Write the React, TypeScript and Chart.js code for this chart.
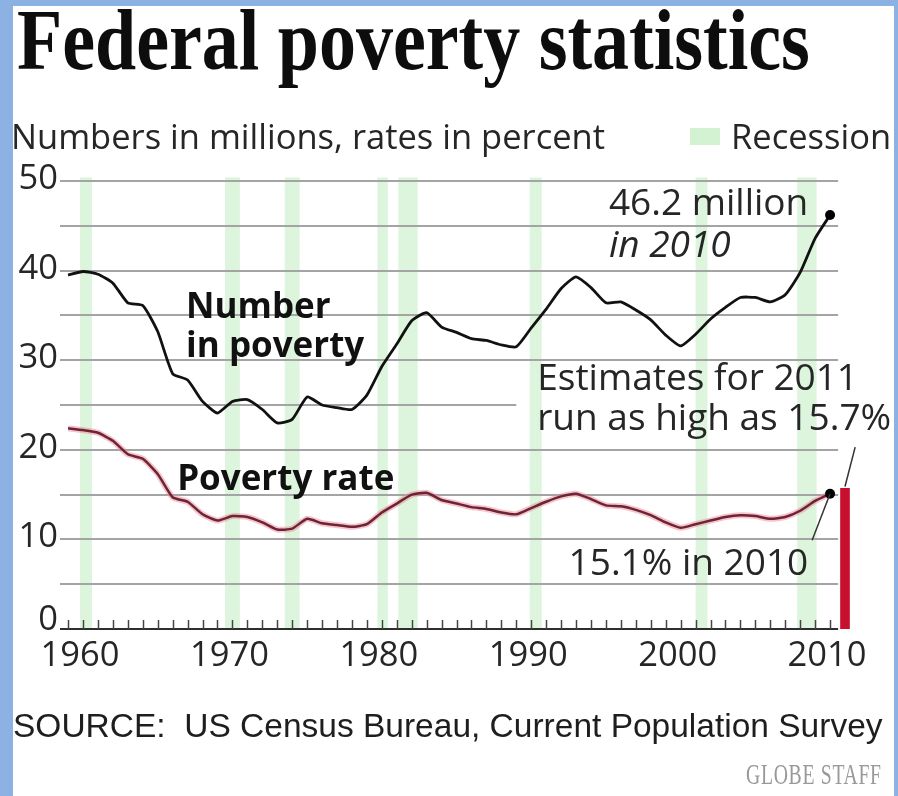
import React, { useEffect, useRef } from 'react';
import { Chart, registerables } from 'chart.js';

Chart.register(...registerables);

// ---------- data ----------
const years = [
  1959, 1960, 1961, 1962, 1963, 1964, 1965, 1966, 1967, 1968, 1969,
  1970, 1971, 1972, 1973, 1974, 1975, 1976, 1977, 1978, 1979,
  1980, 1981, 1982, 1983, 1984, 1985, 1986, 1987, 1988, 1989,
  1990, 1991, 1992, 1993, 1994, 1995, 1996, 1997, 1998, 1999,
  2000, 2001, 2002, 2003, 2004, 2005, 2006, 2007, 2008, 2009, 2010,
];
const numberInPoverty = [
  39.5, 39.9, 39.6, 38.6, 36.4, 36.1, 33.2, 28.5, 27.8, 25.4, 24.1,
  25.4, 25.6, 24.5, 23.0, 23.4, 25.9, 25.0, 24.7, 24.5, 26.1,
  29.3, 31.8, 34.4, 35.3, 33.7, 33.1, 32.4, 32.2, 31.7, 31.5,
  33.6, 35.7, 38.0, 39.3, 38.1, 36.4, 36.5, 35.6, 34.5, 32.8,
  31.6, 32.9, 34.6, 35.9, 37.0, 37.0, 36.5, 37.3, 39.8, 43.6, 46.2,
];
const povertyRate = [
  22.4, 22.2, 21.9, 21.0, 19.5, 19.0, 17.3, 14.7, 14.2, 12.8, 12.1,
  12.6, 12.5, 11.9, 11.1, 11.2, 12.3, 11.8, 11.6, 11.4, 11.7,
  13.0, 14.0, 15.0, 15.2, 14.4, 14.0, 13.6, 13.4, 13.0, 12.8,
  13.5, 14.2, 14.8, 15.1, 14.5, 13.8, 13.7, 13.3, 12.7, 11.9,
  11.3, 11.7, 12.1, 12.5, 12.7, 12.6, 12.3, 12.5, 13.2, 14.3, 15.1,
];
const estimateYears = [2011];
const estimateRates = [15.7];
const recessionStarts = [1959.8, 1969.5, 1973.5, 1979.7, 1981.1, 1989.9, 2001.0, 2007.8];
const recessionEnds = [1960.6, 1970.5, 1974.5, 1980.4, 1982.4, 1990.7, 2001.8, 2009.1];
const yTickValues = [0, 10, 20, 30, 40, 50];
const yGridValues = [5, 10, 15, 20, 25, 30, 35, 40, 45, 50];
const xTickLabels = ['1960', '1970', '1980', '1990', '2000', '2010'];

// ---------- styles ----------
const BLUE = '#8cb2e4';
const BAND = 'rgba(150,225,150,0.32)';
const GRID = '#a4a4a4';
const TEXT = '#262626';
const SANS = '"Open Sans", "DejaVu Sans", sans-serif';
const X_MIN = 1958.46;
const X_MAX = 2011.87;
const GRID_END = 2010.54;

const decorPlugin = {
  id: 'decor',
  beforeDatasetsDraw(chart: any) {
    const { ctx, scales } = chart;
    const x = scales.x;
    const y = scales.y;
    const y0 = y.getPixelForValue(0);
    ctx.save();
    // recession bands
    ctx.fillStyle = BAND;
    const top = y.getPixelForValue(50.4);
    recessionStarts.forEach((s, i) => {
      const a = x.getPixelForValue(s);
      const b = x.getPixelForValue(recessionEnds[i]);
      ctx.fillRect(a, top, b - a, y0 - top);
    });
    // grid lines
    ctx.strokeStyle = GRID;
    ctx.lineWidth = 2;
    yGridValues.forEach((v) => {
      const py = Math.round(y.getPixelForValue(v));
      const end = v === 25 ? 1989.0 : GRID_END;
      ctx.beginPath();
      ctx.moveTo(x.getPixelForValue(X_MIN), py);
      ctx.lineTo(x.getPixelForValue(end), py);
      ctx.stroke();
    });
    // baseline
    ctx.strokeStyle = '#2e2e2e';
    ctx.lineWidth = 2;
    ctx.beginPath();
    ctx.moveTo(x.getPixelForValue(X_MIN), Math.round(y0));
    ctx.lineTo(x.getPixelForValue(GRID_END), Math.round(y0));
    ctx.stroke();
    // year ticks
    ctx.strokeStyle = '#444';
    ctx.lineWidth = 1.5;
    years.forEach((yr) => {
      const px = Math.round(x.getPixelForValue(yr)) + 0.5;
      ctx.beginPath();
      ctx.moveTo(px, y0);
      ctx.lineTo(px, y0 - 9);
      ctx.stroke();
    });
    // y labels
    ctx.fillStyle = TEXT;
    ctx.font = `34.5px ${SANS}`;
    ctx.textAlign = 'right';
    ctx.textBaseline = 'alphabetic';
    yTickValues.forEach((v) => {
      const py = y.getPixelForValue(v);
      ctx.fillText(String(v), 58, v === 0 ? py + 1 : py + 8);
    });
    // x labels
    ctx.textAlign = 'center';
    xTickLabels.forEach((lab) => {
      ctx.fillText(lab, x.getPixelForValue(Number(lab)) - 3, y0 + 37);
    });
    ctx.restore();
  },
  afterDatasetsDraw(chart: any) {
    const { ctx, scales } = chart;
    const x = scales.x;
    const y = scales.y;
    const P = (a: number, b: number) => [x.getPixelForValue(a), y.getPixelForValue(b)];
    ctx.save();
    ctx.fillStyle = '#111';
    ctx.textAlign = 'left';
    ctx.textBaseline = 'alphabetic';
    ctx.font = `bold 35px ${SANS}`;
    let p = P(1966.9, 34.7);
    ctx.fillText('Number', p[0], p[1]);
    p = P(1966.9, 30.4);
    ctx.fillText('in poverty', p[0], p[1]);
    p = P(1966.3, 15.5);
    ctx.fillText('Poverty rate', p[0], p[1]);

    ctx.fillStyle = TEXT;
    ctx.font = `37px ${SANS}`;
    p = P(1995.2, 46.2);
    ctx.fillText('46.2 million', p[0], p[1]);
    ctx.font = `italic 37px ${SANS}`;
    p = P(1995.2, 41.5);
    ctx.fillText('in 2010', p[0], p[1]);
    ctx.font = `37px ${SANS}`;
    p = P(1990.4, 26.7);
    ctx.fillText('Estimates for 2011', p[0], p[1]);
    p = P(1990.4, 22.2);
    ctx.fillText('run as high as 15.7%', p[0], p[1]);
    p = P(1992.5, 6.0);
    ctx.fillText('15.1% in 2010', p[0], p[1]);

    // leader lines
    ctx.strokeStyle = '#333';
    ctx.lineWidth = 1.5;
    let a = P(2011.68, 20.3);
    let b = P(estimateYears[0], estimateRates[0] + 0.2);
    ctx.beginPath();
    ctx.moveTo(a[0], a[1]);
    ctx.lineTo(b[0], b[1]);
    ctx.stroke();
    a = P(2010, 15.1);
    b = P(2008.8, 9.9);
    ctx.beginPath();
    ctx.moveTo(a[0], a[1]);
    ctx.lineTo(b[0], b[1]);
    ctx.stroke();
    ctx.restore();
  },
};

function ChartCanvas() {
  const ref = useRef<HTMLCanvasElement | null>(null);
  useEffect(() => {
    if (!ref.current) return;
    const last = years.length - 1;
    const numPts = years.map((yr, i) => ({ x: yr, y: numberInPoverty[i] }));
    const ratePts = years.map((yr, i) => ({ x: yr, y: povertyRate[i] }));
    const estPts = estimateYears.map((yr, i) => ({ x: yr, y: estimateRates[i] }));
    const chart = new Chart(ref.current, {
      type: 'line',
      data: {
        datasets: [
          {
            type: 'bar',
            data: estPts as any,
            backgroundColor: '#c8102e',
            barThickness: 9,
            order: 5,
          } as any,
          {
            data: ratePts as any,
            borderColor: 'rgba(236,140,152,0.5)',
            borderWidth: 6,
            pointRadius: 0,
            tension: 0.18,
            order: 4,
          },
          {
            data: ratePts as any,
            borderColor: '#6e2336',
            borderWidth: 2.5,
            tension: 0.18,
            pointRadius: (c: any) => (c.dataIndex === last ? 5 : 0),
            pointBackgroundColor: '#000',
            pointBorderWidth: 0,
            order: 3,
          },
          {
            data: numPts as any,
            borderColor: '#111',
            borderWidth: 2.8,
            tension: 0.18,
            pointRadius: (c: any) => (c.dataIndex === last ? 5 : 0),
            pointBackgroundColor: '#000',
            pointBorderWidth: 0,
            order: 2,
          },
        ],
      },
      options: {
        animation: false,
        responsive: false,
        maintainAspectRatio: false,
        layout: { padding: { left: 60, right: 40, top: 181, bottom: 167 } },
        plugins: { legend: { display: false }, tooltip: { enabled: false }, title: { display: false } },
        scales: {
          x: { type: 'linear', min: X_MIN, max: X_MAX, display: false, offset: false },
          y: { type: 'linear', min: 0, max: 50, display: false },
        },
      },
      plugins: [decorPlugin],
    });
    return () => chart.destroy();
  }, []);
  return (
    <canvas
      ref={ref}
      width={898}
      height={796}
      style={{ position: 'absolute', left: 0, top: 0, width: 898, height: 796, zIndex: 1 }}
    />
  );
}

export default function App() {
  return (
    <div style={{ position: 'fixed', left: 0, top: 0, width: 898, height: 796, background: BLUE, overflow: 'hidden' }}>
      <div style={{ position: 'absolute', left: 13, top: 6, width: 881, height: 790, background: '#fff' }} />
      <ChartCanvas />
      <div
        style={{
          position: 'absolute', left: 17, top: -3, zIndex: 2, whiteSpace: 'nowrap',
          font: 'bold 86px "Liberation Serif", serif', lineHeight: 1, color: '#0d0d0d',
          transform: 'scaleX(0.86)', transformOrigin: 'left top',
        }}
      >
        Federal poverty statistics
      </div>
      <div
        style={{
          position: 'absolute', left: 11, top: 119, zIndex: 2, whiteSpace: 'nowrap',
          font: `34.5px ${SANS}`, lineHeight: 1, color: TEXT,
        }}
      >
        Numbers in millions, rates in percent
      </div>
      <div style={{ position: 'absolute', left: 690, top: 128, width: 30, height: 17, background: '#d2f2d2', zIndex: 2 }} />
      <div
        style={{
          position: 'absolute', left: 731, top: 119, zIndex: 2, whiteSpace: 'nowrap',
          font: `34.5px ${SANS}`, lineHeight: 1, color: TEXT,
        }}
      >
        Recession
      </div>
      <div
        style={{
          position: 'absolute', left: 13, top: 709, zIndex: 2, whiteSpace: 'nowrap',
          font: '33.5px "Liberation Sans", Arial, sans-serif', lineHeight: 1, color: '#1e1e1e',
        }}
      >
        SOURCE:&nbsp; US Census Bureau, Current Population Survey
      </div>
      <div
        style={{
          position: 'absolute', left: 746, top: 760, zIndex: 2, whiteSpace: 'nowrap',
          font: '29px "Liberation Serif", serif', lineHeight: 1, color: '#999',
          letterSpacing: 1, transform: 'scaleX(0.68)', transformOrigin: 'left top',
        }}
      >
        GLOBE STAFF
      </div>
    </div>
  );
}
